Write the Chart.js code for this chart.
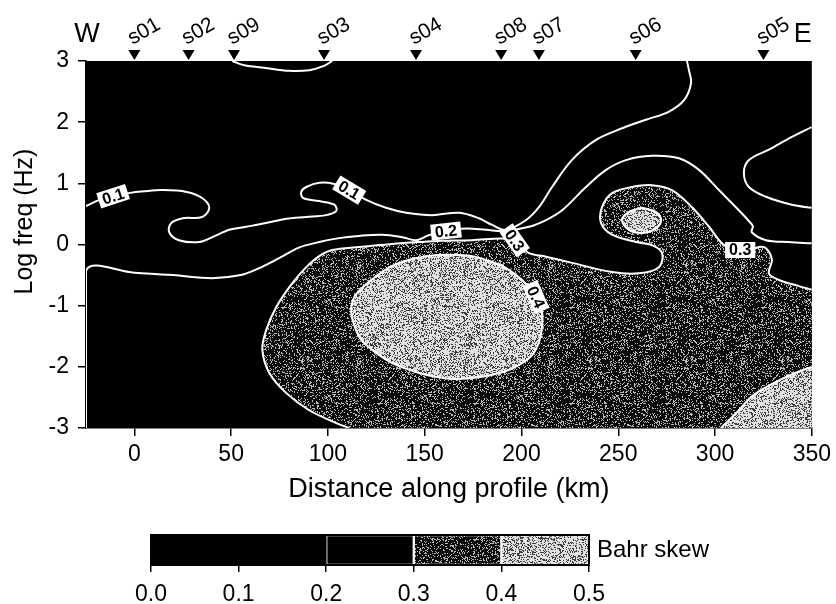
<!DOCTYPE html>
<html>
<head>
<meta charset="utf-8">
<script src="https://cdn.jsdelivr.net/npm/chart.js@4.4.1/dist/chart.umd.min.js"></script>
<style>
  html, body { margin: 0; padding: 0; background: #fff; }
  #wrap { position: relative; width: 836px; height: 604px; }
  #main { position: absolute; left: 0; top: 0; }
  #bar { position: absolute; left: 0; top: 520px; }
</style>
</head>
<body>
<div id="wrap">
  <canvas id="main" width="836" height="604"></canvas>
  <canvas id="bar" width="836" height="84"></canvas>
</div>
<script>
const FONT = "'Liberation Sans', Arial, Helvetica, sans-serif";

// axes
const xMin = -25, xMax = 350, yMin = -3, yMax = 3;
const xTicks = [0, 50, 100, 150, 200, 250, 300, 350];
const yTicks = [3, 2, 1, 0, -1, -2, -3];

// stations along the profile (km)
const stationNames = ['s01', 's02', 's09', 's03', 's04', 's08', 's07', 's06', 's05'];
const stationKm = [0, 28, 51.5, 98, 145.5, 189.5, 209, 259, 325];

// contour lines, [km, log10 f]
const c01West = [[-25, 0.63], [-18, 0.73], [-11, 0.79], [-3, 0.84], [5, 0.87], [14.5, 0.89], [27, 0.86],
  [35, 0.76], [38.7, 0.60], [35, 0.45], [25, 0.43], [19, 0.35], [18, 0.20], [23, 0.07], [33.6, 0.04],
  [40.3, 0.12], [49, 0.24], [57.8, 0.29], [68, 0.35], [78.5, 0.42], [88.8, 0.45], [99, 0.48],
  [104.3, 0.55], [103.3, 0.65], [95.5, 0.71], [87.2, 0.76], [86.2, 0.86], [88.8, 0.94], [95.5, 1.01],
  [103.3, 0.99], [111, 0.89], [119.8, 0.73], [130, 0.60], [140.4, 0.52], [153.8, 0.48], [167.8, 0.52],
  [178, 0.43], [184.8, 0.32], [192, 0.24], [202.4, 0.40], [209, 0.61], [215.8, 0.94], [226, 1.38],
  [238.5, 1.71], [252, 1.90], [264.3, 2.04], [276, 2.17], [284, 2.36], [287.6, 2.64], [286.5, 2.85],
  [285.5, 3.0]];
const c01Top = [[50.6, 3.0], [56.8, 2.93], [67, 2.89], [80, 2.84], [90.3, 2.85], [98, 2.92], [102.2, 3.0]];
const c01East = [[350, 1.92], [339.7, 1.76], [327.8, 1.55], [317.5, 1.38], [314.9, 1.17], [317.5, 0.94],
  [326.3, 0.78], [339.7, 0.65], [350, 0.60]];
const c02 = [[-25, -3], [-25, -0.43], [0, -0.46], [20, -0.50], [40, -0.55], [55, -0.50], [65, -0.38],
  [75, -0.22], [85, -0.05], [95.5, 0.04], [105, 0.10], [116, 0.14], [128, 0.16], [138.4, 0.12],
  [145.6, 0.07], [152, 0.15], [161, 0.22], [171.4, 0.26], [181.7, 0.24], [191, 0.22], [203.9, 0.29],
  [212.7, 0.40], [221, 0.56], [233.3, 0.94], [243.7, 1.22], [254, 1.38], [267.4, 1.45], [281.4, 1.41],
  [291.7, 1.22], [302, 0.89], [312.3, 0.56], [317, 0.40], [319.5, 0.30], [319, 0.20], [326.3, 0.07],
  [338, 0.04], [350, 0.02]];
const c03 = [[111, -3.0], [104.3, -2.92], [90.3, -2.71], [78.5, -2.43], [69.7, -2.10], [66.1, -1.72],
  [68.1, -1.40], [73.3, -1.02], [81.6, -0.63], [88.8, -0.37], [95.5, -0.19], [102.2, -0.09],
  [116.2, -0.04], [133.2, 0.01], [147.1, 0.04], [159, 0.06], [174.5, 0.07], [190, 0.10], [196.2, 0.06],
  [200.3, -0.04], [203.9, -0.14], [212.7, -0.20], [226.1, -0.30], [246.8, -0.45], [260.7, -0.47],
  [271, -0.37], [272.6, -0.14], [267.4, -0.01], [259.2, 0.04], [246.8, 0.16], [241.1, 0.35],
  [241.6, 0.61], [246.8, 0.84], [257.1, 0.94], [267.4, 0.97], [277.7, 0.89], [288.1, 0.61],
  [296.9, 0.29], [303.6, 0.02], [309.8, -0.09], [318.5, -0.09], [322.7, -0.04], [326.3, -0.06],
  [329.4, -0.25], [327.8, -0.47], [333, -0.58], [343.3, -0.68], [350, -0.74]];
const c04Main = [[207.5, -0.86], [210.6, -1.10], [210.6, -1.35], [209.1, -1.59], [205.5, -1.81],
  [198.8, -1.97], [191, -2.08], [178.1, -2.17], [166.2, -2.20], [159, -2.18], [147.1, -2.10],
  [133.2, -1.94], [124.9, -1.77], [117.2, -1.56], [113.6, -1.32], [112, -1.10], [113.6, -0.86],
  [118.7, -0.68], [124.9, -0.52], [133.2, -0.35], [142, -0.25], [150.7, -0.19], [157.5, -0.17],
  [166.2, -0.17], [174.5, -0.19], [183.3, -0.27], [190, -0.35], [197.2, -0.50], [202.9, -0.66],
  [207.5, -0.86]];
const c04Knot = [[262.3, 0.60], [269.5, 0.53], [272.1, 0.40], [269.5, 0.26], [262.3, 0.19], [255.5, 0.24],
  [251.9, 0.40], [255.5, 0.53], [262.3, 0.60]];
const c04Corner = [[303, -3.0], [312, -2.72], [319.5, -2.47], [330, -2.27], [340, -2.12], [350, -2.0]];

// inline contour values
const contourLabels = [
  { text: '0.1', x: -11, y: 0.79 },
  { text: '0.1', x: 111, y: 0.89 },
  { text: '0.2', x: 161, y: 0.22 },
  { text: '0.3', x: 196.5, y: 0.07 },
  { text: '0.4', x: 207.5, y: -0.86 },
  { text: '0.3', x: 313, y: -0.09 }
];
const contourLabelAngles = [-18, 31, -6, 55, 66, 0];

// colour bar
const binEdges = [0, 0.2, 0.3, 0.4, 0.5];
const barTicks = [0, 0.1, 0.2, 0.3, 0.4, 0.5];

// speckled fills for the two upper skew classes
function stipple(ctx, base, dot, share, seed) {
  const n = 96;
  const c = document.createElement('canvas');
  c.width = c.height = n;
  const g = c.getContext('2d');
  const img = g.createImageData(n, n);
  for (let i = 0; i < n * n; i++) {
    let h = Math.imul(i + seed, 0x9e3779b1);
    h ^= h >>> 15; h = Math.imul(h, 0x85ebca6b);
    h ^= h >>> 13; h = Math.imul(h, 0xc2b2ae35);
    h ^= h >>> 16;
    const v = (h >>> 0) / 4294967296 < share ? dot : base;
    img.data[i * 4] = img.data[i * 4 + 1] = img.data[i * 4 + 2] = v;
    img.data[i * 4 + 3] = 255;
  }
  g.putImageData(img, 0, 0);
  return ctx.createPattern(c, 'repeat');
}

const mainCanvas = document.getElementById('main');
const barCanvas = document.getElementById('bar');
const darkFill = stipple(mainCanvas.getContext('2d'), 10, 185, 0.22, 7);
const lightFill = stipple(mainCanvas.getContext('2d'), 225, 60, 0.3, 91);
const binFills = ['#000', '#000', stipple(barCanvas.getContext('2d'), 10, 185, 0.22, 7),
  stipple(barCanvas.getContext('2d'), 225, 60, 0.3, 91)];

const toXY = arr => arr.map(([x, y]) => ({ x, y }));

// close an edge-to-edge contour through points just beyond the plot frame
function closeRight(arr) {
  const first = arr[0], last = arr[arr.length - 1];
  return toXY(arr.concat([[xMax + 10, last[1]], [xMax + 10, yMin - 0.5], [first[0], yMin - 0.5]]));
}

const TENSION = 0.35;

function lineSet(arr) {
  return {
    data: toXY(arr), borderColor: '#fff', borderWidth: 2, pointRadius: 0,
    tension: TENSION, fill: false, order: 1
  };
}
function fillSet(points, colour, order) {
  return {
    data: points, borderWidth: 0, borderColor: 'rgba(0,0,0,0)', backgroundColor: colour,
    pointRadius: 0, tension: TENSION, fill: 'shape', order
  };
}

const frame = {
  id: 'frame',
  beforeDatasetsDraw(chart) {
    const { ctx, chartArea: a } = chart;
    ctx.save();
    ctx.fillStyle = '#000';
    ctx.fillRect(a.left, a.top, a.right - a.left, a.bottom - a.top);
    ctx.restore();
  }
};

const labelsOnLines = {
  id: 'labelsOnLines',
  afterDatasetsDraw(chart) {
    const { ctx, scales: { x, y } } = chart;
    ctx.save();
    ctx.font = 'bold 16px ' + FONT;
    ctx.textAlign = 'center';
    ctx.textBaseline = 'middle';
    contourLabels.forEach((l, i) => {
      const px = x.getPixelForValue(l.x), py = y.getPixelForValue(l.y);
      const w = ctx.measureText(l.text).width + 8;
      ctx.save();
      ctx.translate(px, py);
      ctx.rotate(contourLabelAngles[i] * Math.PI / 180);
      ctx.fillStyle = '#fff';
      ctx.fillRect(-w / 2, -8, w, 16);
      ctx.fillStyle = '#000';
      ctx.fillText(l.text, 0, 1);
      ctx.restore();
    });
    ctx.restore();
  }
};

const annotations = {
  id: 'annotations',
  afterDraw(chart) {
    const { ctx, chartArea: a, scales: { x } } = chart;
    ctx.save();
    ctx.fillStyle = '#000';
    // stations
    ctx.font = '21px ' + FONT;
    ctx.textAlign = 'left';
    ctx.textBaseline = 'alphabetic';
    stationKm.forEach((km, i) => {
      const px = x.getPixelForValue(km);
      ctx.beginPath();
      ctx.moveTo(px - 6, a.top - 11);
      ctx.lineTo(px + 6, a.top - 11);
      ctx.lineTo(px, a.top - 1);
      ctx.closePath();
      ctx.fill();
      ctx.save();
      ctx.translate(px - 2, a.top - 16);
      ctx.rotate(-30 * Math.PI / 180);
      ctx.fillText(stationNames[i], 0, 0);
      ctx.restore();
    });
    // profile ends
    ctx.font = '27px ' + FONT;
    ctx.textAlign = 'center';
    ctx.fillText('W', a.left + 1, a.top - 19);
    ctx.textAlign = 'right';
    ctx.fillText('E', a.right, a.top - 19);
    // axis titles
    ctx.font = '27px ' + FONT;
    ctx.textAlign = 'center';
    ctx.textBaseline = 'middle';
    ctx.fillText('Distance along profile (km)', (a.left + a.right) / 2, a.bottom + 62);
    ctx.font = '25px ' + FONT;
    ctx.save();
    ctx.translate(a.left - 61, (a.top + a.bottom) / 2 - 23);
    ctx.rotate(-Math.PI / 2);
    ctx.fillText('Log freq (Hz)', 0, 0);
    ctx.restore();
    ctx.restore();
  }
};

const tickFont = { family: FONT, size: 23 };

new Chart(mainCanvas, {
  type: 'line',
  data: {
    datasets: [
      fillSet(closeRight(c03), darkFill, 10),
      fillSet(toXY(c04Main), lightFill, 9),
      fillSet(toXY(c04Knot), lightFill, 9),
      fillSet(closeRight(c04Corner), lightFill, 9),
      lineSet(c01West), lineSet(c01Top), lineSet(c01East), lineSet(c02),
      lineSet(c03), lineSet(c04Main), lineSet(c04Knot), lineSet(c04Corner)
    ]
  },
  options: {
    responsive: false,
    animation: false,
    layout: { padding: { top: 61, right: 23, bottom: 0, left: 0 } },
    plugins: { legend: { display: false }, tooltip: { enabled: false } },
    scales: {
      x: {
        type: 'linear', min: xMin, max: xMax,
        afterBuildTicks: axis => { axis.ticks = xTicks.map(v => ({ value: v })); },
        afterFit: s => { s.height = 176; },
        ticks: { font: tickFont, color: '#000', padding: 5, maxRotation: 0 },
        grid: { drawOnChartArea: false, tickLength: 8, color: '#000', lineWidth: 1.5 },
        border: { color: '#000', width: 1.5 }
      },
      y: {
        type: 'linear', min: yMin, max: yMax,
        afterBuildTicks: axis => { axis.ticks = yTicks.map(v => ({ value: v })); },
        afterFit: s => { s.width = 86; },
        ticks: { font: tickFont, color: '#000', padding: 9 },
        grid: { drawOnChartArea: false, tickLength: 8, color: '#000', lineWidth: 1.5 },
        border: { color: '#000', width: 1.5 }
      }
    }
  },
  plugins: [frame, labelsOnLines, annotations]
});

// colour bar
const barFrame = {
  id: 'barFrame',
  afterDatasetsDraw(chart) {
    const { ctx, chartArea: a } = chart;
    ctx.save();
    ctx.strokeStyle = '#000';
    ctx.lineWidth = 2;
    ctx.strokeRect(a.left, a.top, a.right - a.left, a.bottom - a.top);
    ctx.fillStyle = '#000';
    ctx.font = '24px ' + FONT;
    ctx.textAlign = 'left';
    ctx.textBaseline = 'middle';
    ctx.fillText('Bahr skew', a.right + 8, (a.top + a.bottom) / 2);
    ctx.restore();
  }
};

new Chart(barCanvas, {
  type: 'bar',
  data: {
    labels: ['Bahr skew'],
    datasets: binEdges.slice(0, -1).map((lo, i) => ({
      data: [[lo, binEdges[i + 1]]],
      backgroundColor: binFills[i],
      borderColor: i === 0 ? '#000' : '#fff',
      borderWidth: i === 0 ? 0 : 1.5,
      borderSkipped: false,
      grouped: false,
      barPercentage: 1,
      categoryPercentage: 1
    }))
  },
  options: {
    indexAxis: 'y',
    responsive: false,
    animation: false,
    layout: { padding: { left: 151, right: 247, top: 15, bottom: 0 } },
    plugins: { legend: { display: false }, tooltip: { enabled: false } },
    scales: {
      x: {
        type: 'linear', min: 0, max: 0.5,
        afterBuildTicks: axis => { axis.ticks = barTicks.map(v => ({ value: v })); },
        afterFit: s => { s.height = 39; },
        ticks: { font: tickFont, color: '#000', padding: 9, callback: v => v.toFixed(1) },
        grid: { drawOnChartArea: false, tickLength: 7, color: '#000', lineWidth: 1.5 },
        border: { color: '#000', width: 1.5 }
      },
      y: { display: false }
    }
  },
  plugins: [barFrame]
});
</script>
</body>
</html>
